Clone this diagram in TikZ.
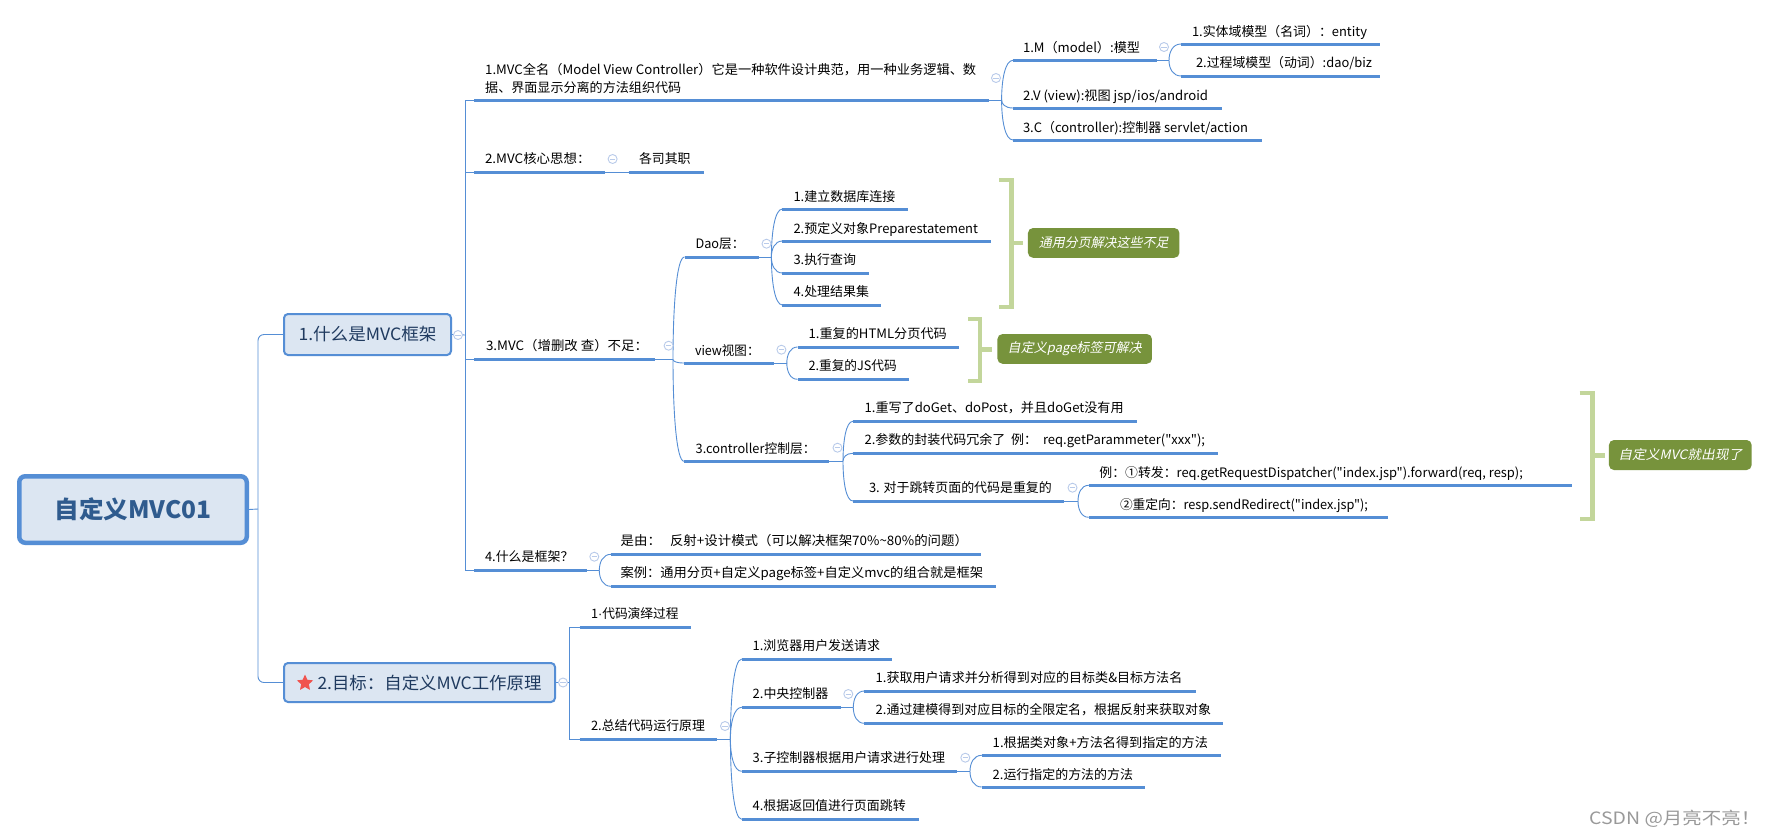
\documentclass[tikz,border=0pt]{standalone}
\usepackage{fontspec}
\usepackage{graphicx}
\setmainfont{Noto Sans CJK SC}
\newfontfamily\mmfont{Noto Sans CJK SC}
\newfontfamily\dotfont{Liberation Sans}
\newfontfamily\slantfont[FakeSlant=0.2]{Noto Sans CJK SC}
\usetikzlibrary{shapes.geometric,calc}
\definecolor{mmblue}{HTML}{558ED5}
\definecolor{mmfill}{HTML}{DCE6F2}
\definecolor{mmtext}{HTML}{2F5B8E}
\definecolor{mmdark}{HTML}{1F3A5F}
\definecolor{mmgreen}{HTML}{77933C}
\definecolor{mmbrack}{HTML}{C3D69B}
\definecolor{mmminus}{HTML}{B9CBEA}
\definecolor{mmstar}{HTML}{F0544F}
\tikzset{
  bar/.style={draw=mmblue,line width=3pt},
  link/.style={draw=mmblue,line width=0.9pt},
  lbl/.style={anchor=base west,inner sep=0pt,outer sep=0pt,text=black,font=\mmfont\fontsize{13}{18}\selectfont},
  rootbox/.style={draw=mmblue,fill=mmfill,line width=4.5pt,rounded corners=6pt,minimum width=227.5pt,minimum height=66.5pt,inner sep=0pt,text=mmtext,font=\mmfont\fontsize{24}{28}\selectfont\bfseries},
  mainbox/.style={draw=mmblue,fill=mmfill,line width=2pt,rounded corners=4pt,inner sep=0pt,minimum height=41pt,text=mmdark,font=\mmfont\fontsize{17}{20}\selectfont},
  notebox/.style={fill=mmgreen,rounded corners=5pt,inner sep=0pt,text=white,font=\fontsize{13}{16}\slantfont},
  brack/.style={draw=mmbrack,line width=4.6pt},
  fold/.style={circle,draw=mmminus,fill=white,line width=0.9pt,minimum size=9pt,inner sep=0pt,
    path picture={\draw[mmminus,line width=0.9pt] ([xshift=-2.6pt]path picture bounding box.center) -- ([xshift=2.6pt]path picture bounding box.center);}},
  mark star/.style={star,star points=5,star point ratio=2.1,fill=#1,draw=none,minimum size=17pt,inner sep=0pt}
}
% name, bar x1, bar x2, bar y, text x1, text x2, text centre y, text
\newcommand\mmtopic[8]{%
  \coordinate (#1-l) at (#2,#4);
  \coordinate (#1-r) at (#3,#4);
  \draw[bar] (#1-l) -- (#1-r);
  \pgfmathsetmacro\mmw{#6-#5}%
  \node[lbl] (#1) at (#5,{#7+4.6}) {\resizebox{\mmw pt}{\height}{#8}};
}
\newcommand\twig[2]{\draw[link] (#1) .. controls ($(#1)!0.5!(#1 |- #2-l)$) and ($(#1 |- #2-l)!0.3!(#2-l)$) .. (#2-l);}
\newcommand\fitw[2]{\resizebox{#1pt}{\height}{#2}}
\begin{document}
\begin{tikzpicture}[x=1pt,y=-1pt]
\useasboundingbox[fill=white] (0,0) rectangle (1768,836);

% links first
\coordinate (trunk) at (258,509);
\coordinate (t2) at (465,335);
\coordinate (t3) at (569.3,682.5);
\coordinate (b-mvc) at (1001.6,100);
\coordinate (b-m) at (1169,60.3);
\coordinate (b-3) at (673,359.5);
\coordinate (b-dao) at (771.4,257);
\coordinate (b-view) at (786.8,363);
\coordinate (b-ctl) at (843,461.3);
\coordinate (b-jump) at (1078,501);
\coordinate (b-4) at (599.3,570.3);
\coordinate (b-sum) at (730.4,739.3);
\coordinate (b-cen) at (853.3,707.3);
\coordinate (b-sub) at (970,771.3);

% root and main topics
\node[rootbox] (root) at (133,509.5) {\fitw{157}{自定义MVC01}};
\node[mainbox,minimum width=167pt] (n1) at (367.5,334.5) {\fitw{138}{1.什么是MVC框架}};
\node[mainbox,minimum width=271pt,minimum height=39pt] (n2) at (419.5,682.5) {\hspace*{20pt}\fitw{224}{2.目标：自定义MVC工作原理}};
\node[mark star=mmstar] (star) at (305,683) {};

\draw[link] (root.east) -- (trunk);
\draw[link,rounded corners=6pt] (n1.west) -| (trunk) |- (n2.west);

% level 2, first group
\coordinate (a1-l) at (474,100);
\coordinate (a1-r) at (988.6,100);
\draw[bar] (a1-l) -- (a1-r);
\node[anchor=west,inner sep=0pt,text=black,font=\mmfont\fontsize{13}{18}\selectfont,align=left] (a1) at (485,78) {\fitw{491}{1.MVC全名（Model View Controller）它是一种软件设计典范，用一种业务逻辑、数}\\\fitw{196}{据、界面显示分离的方法组织代码}};
\mmtopic{a2}{474}{604.5}{172.7}{485}{590.5}{159}{2.MVC核心思想：}
\mmtopic{a2x}{628.6}{703.7}{172.7}{639}{690.6}{159}{各司其职}
\mmtopic{a3}{474}{655}{359.5}{486}{648}{346}{3.MVC（增删改 查）不足：}
\mmtopic{a4}{474}{586.8}{570.3}{485}{573.5}{557}{4.什么是框架？}

\draw[link] (n1.east) -- (t2);
\draw[link] (a1-l) -- (a1-l -| t2) -- (a4-l -| t2) -- (a4-l);
\draw[link] (a2-l -| t2) -- (a2-l);
\draw[link] (a3-l -| t2) -- (a3-l);
\draw[link] (a1-r) -- (b-mvc);
\draw[link] (a2-r) -- (a2x-l);
\draw[link] (a3-r) -- (b-3);
\draw[link] (a4-r) -- (b-4);

% MVC children
\mmtopic{m}{1013}{1157}{60.3}{1023}{1140}{47.7}{1.M（model）:模型}
\mmtopic{v}{1013}{1222}{108}{1023}{1208}{96}{2.V (view):视图 jsp/ios/android}
\mmtopic{c}{1013}{1262}{140}{1023}{1248}{128}{3.C（controller):控制器 servlet/action}
\twig{b-mvc}{m}\twig{b-mvc}{v}\twig{b-mvc}{c}
\draw[link] (m-r) -- (b-m);
\mmtopic{m1}{1181}{1380}{44}{1192}{1367}{32}{1.实体域模型（名词）：entity}
\mmtopic{m2}{1181}{1380}{76}{1196}{1372}{63}{2.过程域模型（动词）:dao/biz}
\twig{b-m}{m1}\twig{b-m}{m2}

% weaknesses
\mmtopic{dao}{684.5}{758.8}{257}{695.5}{744.5}{244}{Dao层：}
\mmtopic{view}{684}{773.6}{363}{695}{759.5}{350.7}{view视图：}
\mmtopic{ctl}{684}{829}{461.3}{695.7}{815.5}{448.7}{3.controller控制层：}
\twig{b-3}{dao}\twig{b-3}{view}\twig{b-3}{ctl}
\draw[link] (dao-r) -- (b-dao);
\draw[link] (view-r) -- (b-view);
\draw[link] (ctl-r) -- (b-ctl);

\mmtopic{d1}{782.4}{907.8}{209}{793.5}{895.5}{196.7}{1.建立数据库连接}
\mmtopic{d2}{782.4}{990.6}{241}{793.5}{978}{228.7}{2.预定义对象Preparestatement}
\mmtopic{d3}{782.4}{868.6}{273}{793.5}{856}{260}{3.执行查询}
\mmtopic{d4}{782.4}{881.4}{305}{793.5}{869}{292}{4.处理结果集}
\twig{b-dao}{d1}\twig{b-dao}{d2}\twig{b-dao}{d3}\twig{b-dao}{d4}

\mmtopic{w1}{797.5}{959.3}{347}{808.6}{946.8}{334}{1.重复的HTML分页代码}
\mmtopic{w2}{797.5}{909}{379.3}{808.6}{896.8}{366}{2.重复的JS代码}
\twig{b-view}{w1}\twig{b-view}{w2}

\mmtopic{k1}{852.9}{1136.8}{421.3}{864.6}{1123.6}{408}{1.重写了doGet、doPost，并且doGet没有用}
\mmtopic{k2}{852.9}{1218}{453.3}{864.6}{1205}{440}{2.参数的封装代码冗余了\ \ 例：\ \ req.getParammeter("xxx");}
\mmtopic{k3}{852.9}{1064}{501}{869}{1051.8}{488.3}{3. 对于跳转页面的代码是重复的}
\twig{b-ctl}{k1}\twig{b-ctl}{k2}\twig{b-ctl}{k3}
\draw[link] (k3-r) -- (b-jump);
\mmtopic{j1}{1088.7}{1571.6}{485.3}{1099.4}{1522.8}{473}{例：①转发：req.getRequestDispatcher("index.jsp").forward(req, resp);}
\mmtopic{j2}{1088.7}{1388}{517.3}{1120}{1368}{505}{②重定向：resp.sendRedirect("index.jsp");}
\twig{b-jump}{j1}\twig{b-jump}{j2}

% what is a framework
\mmtopic{f1}{611}{981.4}{554.3}{620.7}{968}{541}{是由：\ \ \ 反射+设计模式（可以解决框架70\%\textasciitilde80\%的问题）}
\mmtopic{f2}{611}{995.7}{586.3}{620.7}{983}{573}{案例：通用分页+自定义page标签+自定义mvc的组合就是框架}
\twig{b-4}{f1}\twig{b-4}{f2}

% second main topic
\mmtopic{g1}{579.6}{691.4}{627.3}{591}{678.6}{614.3}{1{\dotfont ·}代码演绎过程}
\mmtopic{g2}{579.6}{717}{739.3}{591}{705}{726}{2.总结代码运行原理}
\draw[link] (n2.east) -- (t3);
\draw[link] (g1-l) -- (g1-l -| t3) -- (g2-l -| t3) -- (g2-l);
\draw[link] (g2-r) -- (b-sum);

\mmtopic{s1}{741.7}{892.3}{659}{752.7}{880}{646}{1.浏览器用户发送请求}
\mmtopic{s2}{741.7}{840.7}{707.3}{752.7}{828.3}{694.3}{2.中央控制器}
\mmtopic{s3}{741.7}{957.3}{771.3}{752.7}{945}{758.3}{3.子控制器根据用户请求进行处理}
\mmtopic{s4}{741.7}{918.7}{819.3}{752.7}{905.7}{806.3}{4.根据返回值进行页面跳转}
\twig{b-sum}{s1}\twig{b-sum}{s2}\twig{b-sum}{s3}\twig{b-sum}{s4}
\draw[link] (s2-r) -- (b-cen);
\draw[link] (s3-r) -- (b-sub);
\mmtopic{e1}{864.3}{1195.7}{691}{875.7}{1182.3}{678.3}{1.获取用户请求并分析得到对应的目标类\&目标方法名}
\mmtopic{e2}{864.3}{1223.3}{723.3}{875.7}{1211}{710}{2.通过建模得到对应目标的全限定名，根据反射来获取对象}
\twig{b-cen}{e1}\twig{b-cen}{e2}
\mmtopic{h1}{981.7}{1220.7}{755.3}{992.7}{1208}{742.7}{1.根据类对象+方法名得到指定的方法}
\mmtopic{h2}{981.7}{1145.3}{787}{992.7}{1133}{774.7}{2.运行指定的方法的方法}
\twig{b-sub}{h1}\twig{b-sub}{h2}

% summaries
\node[notebox,minimum width=151.5pt,minimum height=29.7pt] (note1) at (1103.7,242.9) {\fitw{129.5}{通用分页解决这些不足}};
\node[notebox,minimum width=154.5pt,minimum height=29.7pt] (note2) at (1074.7,348.9) {\fitw{134}{自定义page标签可解决}};
\node[notebox,minimum width=142.7pt,minimum height=30pt] (note3) at (1680.3,455) {\fitw{124}{自定义MVC就出现了}};
\coordinate (br1) at (1011.5,243);
\coordinate (br2) at (980,349.7);
\coordinate (br3) at (1592.5,455.3);
\coordinate (end1) at (1023,243);
\coordinate (end2) at (992,349.7);
\coordinate (end3) at (1604.5,455.3);
\draw[brack] (999,180) -- (1011.5,180) -- (1011.5,307) -- (999,307);
\draw[brack] (br1) -- (end1);
\draw[brack] (968,319) -- (980,319) -- (980,381) -- (968,381);
\draw[brack] (br2) -- (end2);
\draw[brack] (1579.5,393) -- (1592.5,393) -- (1592.5,519) -- (1579.5,519);
\draw[brack] (br3) -- (end3);

% fold markers
\node[fold] (fn1) at (458,335) {};
\node[fold] (fn2) at (563,682.5) {};
\node[fold] (fa1) at (996,78) {};
\node[fold] (fa2) at (612.6,159) {};
\node[fold] (fa3) at (668.6,345.7) {};
\node[fold] (fa4) at (594.3,556.7) {};
\node[fold] (fm) at (1164,47) {};
\node[fold] (fd) at (766.5,243.7) {};
\node[fold] (fv) at (781.4,349.7) {};
\node[fold] (fc) at (837.5,447.7) {};
\node[fold] (fk) at (1072.5,487.7) {};
\node[fold] (fg) at (725,726) {};
\node[fold] (fs2) at (848.3,694) {};
\node[fold] (fs3) at (965.3,757.7) {};

% watermark
\node[anchor=base west,inner sep=0pt,text=black!40,font=\mmfont\fontsize{17}{20}\selectfont] (mark) at (1589,824) {\fitw{171}{CSDN @月亮不亮！}};
\end{tikzpicture}
\end{document}
